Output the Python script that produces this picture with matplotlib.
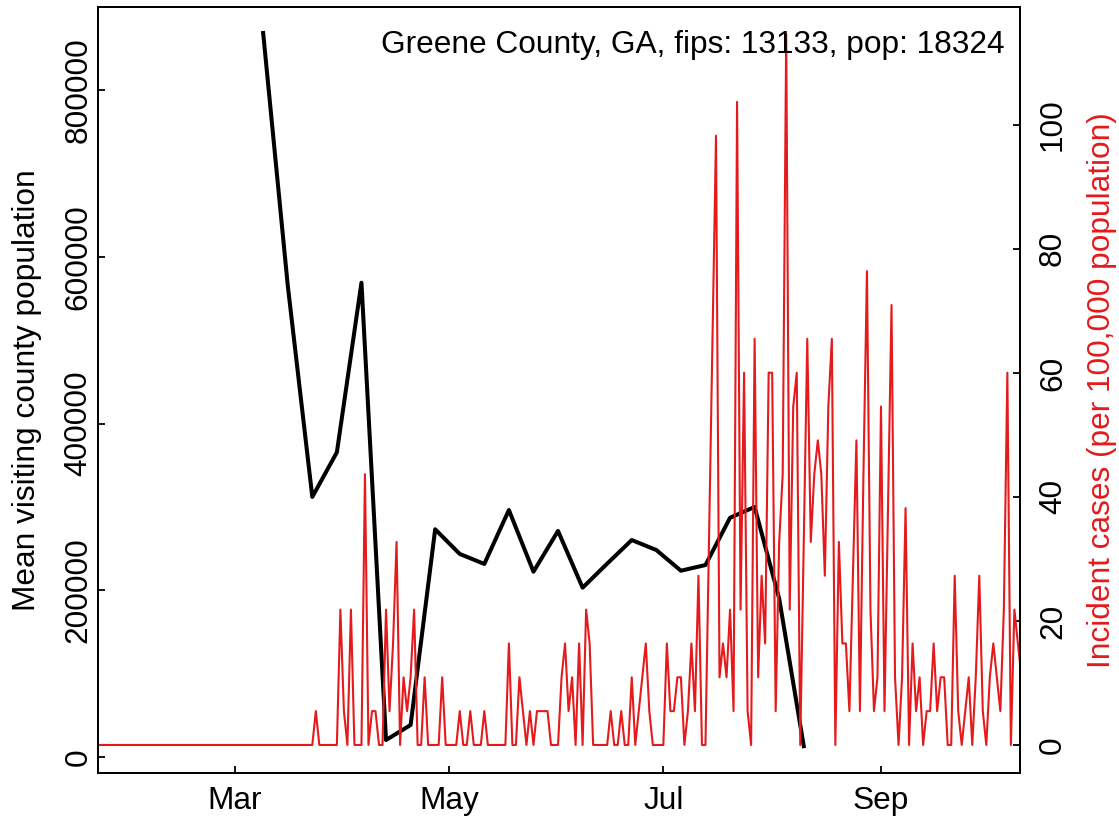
import numpy as np
import matplotlib
matplotlib.use("Agg")
import matplotlib.pyplot as plt
import matplotlib.dates as mdates

plt.rcParams['font.family'] = ['Liberation Sans', 'DejaVu Sans']

county_label = "Greene County, GA, fips: 13133, pop: 18324"
population = 18324

# daily new cases, one value per day from 2020-01-22
case_start = "2020-01-22"
daily_cases = (
    [0] * 62
    + [1, 0, 0, 0, 0, 0, 0, 4, 1, 0, 4, 0, 0, 0, 8, 0, 1, 1, 0, 0,
       4, 1, 3, 6, 0, 2, 1, 2, 4, 0, 0, 2, 0, 0, 0, 0, 2, 0, 0, 0,
       0, 1, 0, 0, 1, 0, 0, 0, 1, 0, 0, 0, 0, 0, 0, 3, 0, 0, 2, 1,
       0, 1, 0, 1, 1, 1, 1, 0, 0, 0, 2, 3, 1, 2, 0, 3, 0, 4, 3, 0,
       0, 0, 0, 0, 1, 0, 0, 1, 0, 0, 2, 0, 1, 2, 3, 1, 0, 0, 0, 0,
       3, 1, 1, 2, 2, 0, 1, 3, 1, 5, 0, 0, 6, 12, 18, 2, 3, 2, 4, 1,
       19, 4, 11, 1, 0, 12, 2, 5, 3, 11, 11, 1, 6, 8, 21, 4, 10, 11, 0, 6,
       12, 6, 8, 9, 8, 5, 10, 12, 0, 6, 3, 3, 1, 5, 9, 1, 8, 14, 4, 1,
       2, 10, 1, 7, 13, 2, 0, 2, 7, 0, 3, 1, 2, 0, 1, 1, 3, 1, 2, 2,
       0, 0, 5, 1, 0, 1, 2, 0, 2, 5, 1, 0, 2, 3, 2, 1, 4, 11, 0, 4,
       3, 2]
)

# weekly mean visiting county population, weeks from 2020-03-09
visit_start = "2020-03-09"
visiting_pop = [868600, 566000, 312000, 365600, 569000, 20400, 38400, 273200,
                243600, 231600, 296300, 222300, 271200, 203100, 232000, 260300,
                248300, 223500, 230300, 287000, 300000, 190000, 13000]

left_ticks = [0, 200000, 400000, 600000, 800000]
right_ticks = [0, 20, 40, 60, 80, 100]
month_ticks = ["2020-03-01", "2020-05-01", "2020-07-01", "2020-09-01"]
month_labels = ["Mar", "May", "Jul", "Sep"]

case_dates = np.datetime64(case_start) + np.arange(len(daily_cases))
incidence = np.array(daily_cases) / population * 1e5
visit_dates = np.datetime64(visit_start) + 7 * np.arange(len(visiting_pop))

fs = 22.8
red = '#E41A1C'

fig = plt.figure(figsize=(11.19, 8.22), dpi=100)
ax = fig.add_axes([98 / 1119, 1 - 773 / 822, 922 / 1119, 766 / 822])

# black line: visiting population
ax.plot(visit_dates, visiting_pop, color='black', lw=2.9, solid_joinstyle='round')
ax.set_ylim(-19200, 899800)
x0 = mdates.date2num(np.datetime64(case_start))
ax.set_xlim(x0 - 0.05, x0 + 262.6)
ax.set_yticks(left_ticks)
ax.set_yticklabels([str(v) for v in left_ticks])
ax.set_xticks([mdates.date2num(np.datetime64(d)) for d in month_ticks])
ax.set_xticklabels(month_labels)
ax.tick_params(axis='both', direction='in', length=5, width=1.3, labelsize=fs)
ax.tick_params(axis='x', pad=9.5)
ax.tick_params(axis='y', pad=3.2)
for lab in ax.get_yticklabels():
    lab.set_rotation(90)
    lab.set_va('center')
ax.set_ylabel("Mean visiting county population", fontsize=fs)
ax.yaxis.set_label_coords(-0.0604, 0.5)

# red line: incident cases per 100k
ax2 = ax.twinx()
ax2.plot(case_dates, incidence, color=red, lw=1.5)
ax2.set_ylim(-4.52, 119.0)
ax2.set_yticks(right_ticks)
ax2.set_yticklabels([str(v) for v in right_ticks])
ax2.tick_params(axis='y', direction='in', length=5, width=1.3, labelsize=fs, pad=13)
for lab in ax2.get_yticklabels():
    lab.set_rotation(90)
    lab.set_va('center')
ax2.set_ylabel("Incident cases (per 100,000 population)", fontsize=fs, color=red)
ax2.yaxis.set_label_coords(1.0725, 0.5)

for a in (ax, ax2):
    for s in a.spines.values():
        s.set_linewidth(1.3)

ax2.text(0.9837, 0.950, county_label, transform=ax2.transAxes,
         ha='right', va='center', fontsize=fs)

fig.savefig("out.png", dpi=100)
